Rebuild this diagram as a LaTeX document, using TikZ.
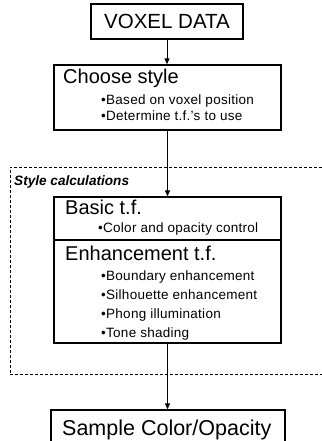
\documentclass[tikz,border=0pt]{standalone}
\usepackage{fontspec}
\setmainfont{Liberation Sans}
\usetikzlibrary{arrows.meta}
\begin{document}
\begin{tikzpicture}[x=1pt,y=-1pt,
  box/.style={draw, line width=1.3pt, rectangle, inner sep=0pt},
  arr/.style={line width=0.9pt, -{Triangle[length=6pt,width=5pt]}},
  bigtext/.style={anchor=base west, inner sep=0pt, font=\fontsize{20}{22}\selectfont},
  item/.style={anchor=base west, inner sep=0pt, font=\fontsize{13.5}{15}\selectfont\addfontfeature{LetterSpace=2}},
  region/.style={draw, dash pattern=on 3pt off 2pt, line width=0.7pt, rectangle, inner sep=0pt}]
\useasboundingbox (0,0) rectangle (321,441);
\fill[white] (0,0) rectangle (321,441);

% dashed region
\node[region, minimum width=330pt, minimum height=207pt] (calc) at (175,270.5) {};
\node[anchor=base west, inner sep=0pt, font=\bfseries\itshape\fontsize{13.6}{15}\selectfont] (calctitle) at (14,185) {Style calculations};

% voxel data
\node[box, minimum width=152pt, minimum height=35pt, font=\fontsize{20.5}{22}\selectfont] (voxel) at (167,21.5) {VOXEL DATA};

% choose style
\node[box, minimum width=227pt, minimum height=65pt] (choose) at (167.5,97.5) {};
\node[bigtext] (choosetitle) at (63,83.5) {Choose style};
\node[item] (c1) at (101,105) {•Based on voxel position};
\node[item] (c2) at (101,121) {•Determine t.f.'s to use};

% basic t.f.
\node[box, minimum width=227pt, minimum height=43pt] (basic) at (167.5,218.5) {};
\node[bigtext] (basictitle) at (65,214) {Basic t.f.};
\node[item] (b1) at (98,232) {•Color and opacity control};

% enhancement t.f.
\node[box, minimum width=227pt, minimum height=103pt] (enh) at (167.5,291.5) {};
\node[bigtext] (enhtitle) at (65,260) {Enhancement t.f.};
\node[item] (e1) at (101,280) {•Boundary enhancement};
\node[item] (e2) at (101,299) {•Silhouette enhancement};
\node[item] (e3) at (101,318) {•Phong illumination};
\node[item] (e4) at (101,337) {•Tone shading};

% sample
\node[box, minimum width=234pt, minimum height=60pt] (sample) at (168,440) {};
\node[anchor=base west, inner sep=0pt, font=\fontsize{21.5}{23}\selectfont] (sampletitle) at (62,435) {Sample Color/Opacity};

% arrows
\draw[arr] (voxel.south) -- (voxel.south |- choose.north);
\draw[arr] (choose.south) -- (choose.south |- basic.north);
\draw[arr] (enh.south) -- (enh.south |- sample.north);
\end{tikzpicture}
\end{document}
